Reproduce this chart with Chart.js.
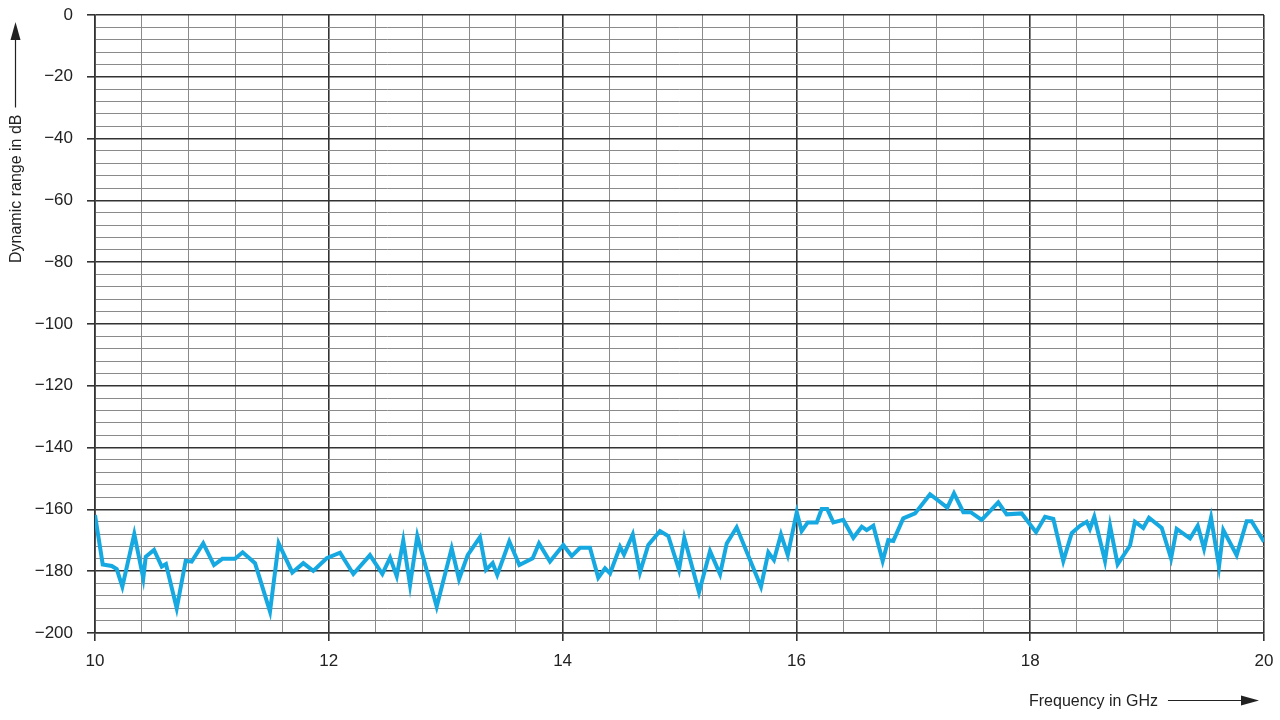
<!DOCTYPE html>
<html lang="en">
<head>
    <meta charset="UTF-8">
    <title>Dynamic range vs frequency</title>
    <script src="https://cdn.jsdelivr.net/npm/chart.js"></script>
    <style>
        html, body { margin: 0; padding: 0; background: #ffffff; }
        canvas { display: block; }
    </style>
</head>
<body>
    <canvas id="rangeChart" width="1280" height="720"></canvas>
    <script>
        // frequency in GHz and dynamic range in dB
        const freqGHz = [
            10.000, 10.066, 10.143, 10.186, 10.234, 10.336, 10.413, 10.434, 10.505, 10.571,
            10.607, 10.699, 10.776, 10.827, 10.926, 11.018, 11.089, 11.198, 11.263, 11.369,
            11.497, 11.571, 11.688, 11.782, 11.867, 11.982, 12.096, 12.210, 12.352, 12.458,
            12.524, 12.581, 12.637, 12.695, 12.757, 12.923, 13.051, 13.114, 13.188, 13.293,
            13.345, 13.402, 13.441, 13.544, 13.630, 13.744, 13.798, 13.892, 14.006, 14.078,
            14.149, 14.234, 14.305, 14.363, 14.406, 14.491, 14.525, 14.600, 14.662, 14.733,
            14.833, 14.904, 14.996, 15.041, 15.167, 15.261, 15.347, 15.404, 15.489, 15.697,
            15.760, 15.808, 15.868, 15.926, 16.003, 16.045, 16.097, 16.174, 16.216, 16.264,
            16.316, 16.401, 16.487, 16.559, 16.601, 16.658, 16.738, 16.786, 16.829, 16.914,
            17.015, 17.143, 17.291, 17.348, 17.428, 17.491, 17.585, 17.727, 17.799, 17.927,
            18.050, 18.127, 18.198, 18.283, 18.355, 18.426, 18.483, 18.511, 18.548, 18.640,
            18.683, 18.748, 18.854, 18.896, 18.967, 19.016, 19.125, 19.205, 19.253, 19.367,
            19.433, 19.487, 19.547, 19.615, 19.652, 19.766, 19.852, 19.894, 20.000
        ];
        const rangeDb = [
            -161.8, -177.8, -178.3, -179.3, -185.0, -168.0, -182.3, -175.3, -173.1, -178.5,
            -177.7, -192.0, -176.6, -176.9, -171.0, -178.0, -176.0, -176.0, -173.9, -177.4,
            -193.1, -171.0, -180.4, -177.4, -179.9, -175.8, -174.0, -180.9, -174.8, -180.9,
            -175.6, -181.6, -170.1, -184.5, -168.6, -191.5, -172.6, -182.6, -174.8, -169.0,
            -179.6, -177.4, -181.2, -170.4, -178.0, -175.8, -171.0, -176.9, -171.5, -175.1,
            -172.4, -172.4, -182.1, -179.1, -180.7, -172.1, -174.6, -168.1, -180.4, -171.5,
            -167.0, -168.6, -179.6, -169.2, -186.8, -173.5, -181.0, -171.0, -165.8, -185.0,
            -173.9, -176.4, -168.1, -174.8, -160.9, -167.0, -164.2, -164.2, -159.9, -159.9,
            -164.2, -163.4, -169.2, -165.6, -166.7, -165.3, -176.7, -169.9, -170.2, -162.9,
            -161.3, -155.1, -159.4, -154.8, -160.9, -160.9, -163.4, -157.7, -161.6, -161.3,
            -167.4, -162.4, -163.1, -176.7, -167.7, -165.3, -164.0, -166.3, -162.4, -176.7,
            -165.3, -177.8, -171.7, -164.0, -166.0, -162.7, -166.0, -175.9, -166.3, -169.4,
            -165.3, -172.7, -162.6, -178.5, -166.7, -174.8, -163.8, -163.8, -170.5
        ];
        const xTickLabels = [10, 12, 14, 16, 18, 20];
        const yTickLabels = [0, -20, -40, -60, -80, -100, -120, -140, -160, -180, -200];

        const FONT = "'Liberation Sans Narrow', 'Liberation Sans', sans-serif";

        function isMajor(v, step) {
            return Math.abs(v / step - Math.round(v / step)) < 1e-6;
        }

        // axis titles with arrows, drawn outside the plot
        const axisTitles = {
            id: "axisTitles",
            afterDraw(chart) {
                const ctx = chart.ctx;
                ctx.save();
                ctx.fillStyle = "#222";
                ctx.strokeStyle = "#222";
                ctx.lineWidth = 1.2;
                ctx.font = "16px " + FONT;

                // y title, rotated, arrow tip near the top
                ctx.save();
                ctx.translate(21, 263);
                ctx.rotate(-Math.PI / 2);
                ctx.textAlign = "left";
                ctx.textBaseline = "alphabetic";
                ctx.fillText("Dynamic range in dB", 0, 0);
                const w = ctx.measureText("Dynamic range in dB").width;
                ctx.beginPath();
                ctx.moveTo(w + 7, -5.5);
                ctx.lineTo(226, -5.5);
                ctx.stroke();
                ctx.beginPath();
                ctx.moveTo(241, -5.5);
                ctx.lineTo(223, -10.5);
                ctx.lineTo(223, -0.5);
                ctx.closePath();
                ctx.fill();
                ctx.restore();

                // x title
                ctx.textAlign = "left";
                ctx.textBaseline = "alphabetic";
                ctx.fillText("Frequency in GHz", 1029, 706);
                const xw = ctx.measureText("Frequency in GHz").width;
                const y0 = 700.5;
                ctx.beginPath();
                ctx.moveTo(1029 + xw + 10, y0);
                ctx.lineTo(1244, y0);
                ctx.stroke();
                ctx.beginPath();
                ctx.moveTo(1259, y0);
                ctx.lineTo(1241, y0 - 5);
                ctx.lineTo(1241, y0 + 5);
                ctx.closePath();
                ctx.fill();
                ctx.restore();
            }
        };

        new Chart(document.getElementById("rangeChart").getContext("2d"), {
            type: "line",
            data: {
                datasets: [{
                    data: freqGHz.map((f, i) => ({ x: f, y: rangeDb[i] })),
                    borderColor: "#16a8e0",
                    borderWidth: 4,
                    pointRadius: 0,
                    tension: 0,
                    fill: false
                }]
            },
            options: {
                responsive: false,
                animation: false,
                layout: { padding: { top: 15, right: 16, left: 0, bottom: 0 } },
                plugins: {
                    legend: { display: false },
                    tooltip: { enabled: false }
                },
                scales: {
                    x: {
                        type: "linear",
                        min: 10,
                        max: 20,
                        afterFit: s => {
                            s.height = 87;
                            s.paddingLeft = 0;
                            s.paddingRight = 0;
                        },
                        ticks: {
                            stepSize: 0.4,
                            autoSkip: false,
                            maxRotation: 0,
                            padding: 10,
                            color: "#222",
                            font: { family: FONT, size: 17 },
                            callback: v => xTickLabels.find(t => Math.abs(t - v) < 1e-6) !== undefined ? String(Math.round(v)) : ""
                        },
                        grid: {
                            color: c => isMajor(c.tick.value, 2) ? "#333333" : "#8a8a8a",
                            lineWidth: c => isMajor(c.tick.value, 2) ? 1.6 : 1,
                            tickColor: c => isMajor(c.tick.value, 2) ? "#333333" : "rgba(0,0,0,0)",
                            tickLength: 8
                        },
                        border: { color: "#333333", width: 1.6 }
                    },
                    y: {
                        min: -200,
                        max: 0,
                        afterFit: s => {
                            s.width = 95;
                            s.paddingTop = 0;
                            s.paddingBottom = 0;
                        },
                        ticks: {
                            stepSize: 4,
                            autoSkip: false,
                            padding: 14,
                            color: "#222",
                            font: { family: FONT, size: 17 },
                            callback: v => {
                                if (yTickLabels.indexOf(Math.round(v)) < 0 || !isMajor(v, 20)) return "";
                                return v < 0 ? "\u2212" + Math.abs(Math.round(v)) : "0";
                            }
                        },
                        grid: {
                            color: c => isMajor(c.tick.value, 20) ? "#333333" : "#8a8a8a",
                            lineWidth: c => isMajor(c.tick.value, 20) ? 1.6 : 1,
                            tickColor: c => isMajor(c.tick.value, 20) ? "#333333" : "rgba(0,0,0,0)",
                            tickLength: 8
                        },
                        border: { color: "#333333", width: 1.6 }
                    }
                }
            },
            plugins: [axisTitles]
        });
    </script>
</body>
</html>
